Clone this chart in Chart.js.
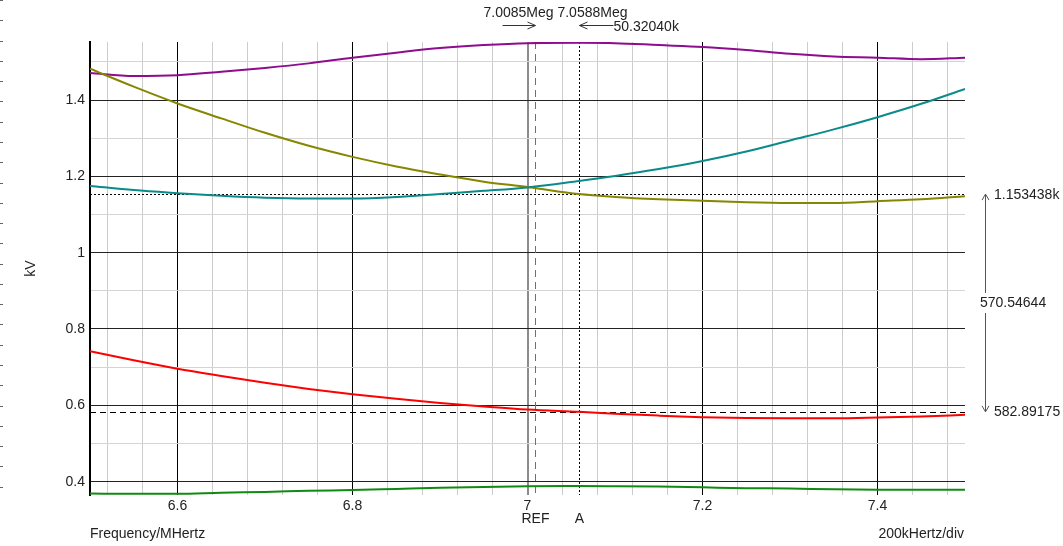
<!DOCTYPE html>
<html>
<head>
<meta charset="utf-8">
<title>Frequency sweep</title>
<script src="https://cdn.jsdelivr.net/npm/chart.js@4.4.1/dist/chart.umd.min.js"></script>
<style>
  html, body { margin: 0; padding: 0; background: #fff; }
  #wrap { position: relative; width: 1063px; height: 546px; }
</style>
</head>
<body>
<div id="wrap"><canvas id="sweepChart"></canvas></div>
<script>
// Sweep points (MHz)
const freqs = [6.5, 6.55, 6.6, 6.65, 6.7, 6.75, 6.8, 6.85, 6.9, 6.95, 7.0, 7.0588, 7.1, 7.15, 7.2, 7.25, 7.3, 7.35, 7.4, 7.45, 7.5];

// Trace values (kV)
const tracePurple = [1.471, 1.463, 1.465, 1.474, 1.484, 1.496, 1.511, 1.524, 1.536, 1.544, 1.549, 1.550, 1.549, 1.544, 1.539, 1.531, 1.521, 1.514, 1.511, 1.507, 1.511];
const traceOlive  = [1.482, 1.435, 1.391, 1.352, 1.314, 1.280, 1.251, 1.226, 1.205, 1.186, 1.172, 1.153438, 1.146, 1.140, 1.136, 1.132, 1.130, 1.130, 1.135, 1.140, 1.148];
const traceTeal   = [1.175, 1.164, 1.156, 1.149, 1.144, 1.142, 1.142, 1.146, 1.154, 1.162, 1.171, 1.188, 1.201, 1.219, 1.240, 1.265, 1.294, 1.323, 1.355, 1.390, 1.429];
const traceRed    = [0.742, 0.718, 0.696, 0.677, 0.659, 0.643, 0.629, 0.617, 0.606, 0.597, 0.589, 0.58289175, 0.578, 0.573, 0.569, 0.567, 0.566, 0.566, 0.568, 0.571, 0.575];
const traceGreen  = [0.369, 0.368, 0.368, 0.371, 0.373, 0.376, 0.378, 0.381, 0.384, 0.386, 0.388, 0.3885, 0.388, 0.387, 0.385, 0.383, 0.382, 0.380, 0.379, 0.379, 0.379];

// Axis ticks
const xTicks = [6.6, 6.8, 7, 7.2, 7.4];
const xTickLabels = ['6.6', '6.8', '7', '7.2', '7.4'];
const xMinor = [6.52, 6.56, 6.64, 6.68, 6.72, 6.76, 6.84, 6.88, 6.92, 6.96, 7.04, 7.08, 7.12, 7.16, 7.24, 7.28, 7.32, 7.36, 7.44, 7.48];
const yTicks = [0.4, 0.6, 0.8, 1, 1.2, 1.4];
const yTickLabels = ['0.4', '0.6', '0.8', '1', '1.2', '1.4'];
const yMinor = [0.5, 0.7, 0.9, 1.1, 1.3, 1.5];

// Cursors
const refFreq = 7.0085;
const aFreq = 7.0588;
const levelHigh = 1.153438;
const levelLow = 0.58289175;
const refText = '7.0085Meg';
const aText = '7.0588Meg';
const deltaFreqText = '50.32040k';
const highText = '1.153438k';
const deltaLevelText = '570.54644';
const lowText = '582.89175';

const FONT = '"Liberation Sans", Arial, sans-serif';
Chart.defaults.font.family = FONT;
Chart.defaults.font.size = 14;

const near = (v, list) => list.findIndex(t => Math.abs(t - v) < 1e-6);

function toPoints(values) {
    return freqs.map((f, i) => ({ x: f, y: values[i] }));
}

function trace(values, color) {
    return {
        data: toPoints(values),
        borderColor: color,
        borderWidth: 2,
        pointRadius: 0,
        fill: false,
        cubicInterpolationMode: 'monotone'
    };
}

function openHead(ctx, tx, ty, ux, uy, len, half) {
    const bx = tx - ux * len, by = ty - uy * len;
    ctx.beginPath();
    ctx.moveTo(bx - uy * half, by + ux * half);
    ctx.lineTo(tx, ty);
    ctx.lineTo(bx + uy * half, by - ux * half);
    ctx.stroke();
}

const cursorPlugin = {
    id: 'cursors',
    beforeDatasetsDraw(chart) {
        const { ctx, chartArea: area, scales: { x, y } } = chart;
        const refX = Math.round(x.getPixelForValue(refFreq)) + 0.5;
        const aX = Math.round(x.getPixelForValue(aFreq)) + 0.5;
        const hiY = Math.round(y.getPixelForValue(levelHigh)) + 0.5;
        const loY = Math.round(y.getPixelForValue(levelLow)) + 0.5;
        ctx.save();
        ctx.lineWidth = 1;

        // REF cursor
        ctx.strokeStyle = '#707070';
        ctx.setLineDash([7, 5]);
        ctx.beginPath();
        ctx.moveTo(refX, area.top);
        ctx.lineTo(refX, area.bottom);
        ctx.stroke();

        // A cursor
        ctx.strokeStyle = '#000';
        ctx.setLineDash([2, 2]);
        ctx.beginPath();
        ctx.moveTo(aX, area.top);
        ctx.lineTo(aX, area.bottom);
        ctx.stroke();

        // level markers
        ctx.beginPath();
        ctx.moveTo(area.left, hiY);
        ctx.lineTo(area.right, hiY);
        ctx.stroke();
        ctx.setLineDash([6, 4]);
        ctx.beginPath();
        ctx.moveTo(area.left, loY);
        ctx.lineTo(area.right, loY);
        ctx.stroke();
        ctx.restore();
    },
    afterDraw(chart) {
        const { ctx, chartArea: area, scales: { x, y } } = chart;
        const refX = Math.round(x.getPixelForValue(refFreq)) + 0.5;
        const aX = Math.round(x.getPixelForValue(aFreq)) + 0.5;
        const hiY = y.getPixelForValue(levelHigh);
        const loY = y.getPixelForValue(levelLow);
        ctx.save();
        ctx.font = '14px ' + FONT;
        ctx.fillStyle = '#222';
        ctx.textBaseline = 'middle';

        // frequency readouts
        ctx.textAlign = 'center';
        ctx.fillText(refText + ' ' + aText, (refX + aX) / 2 - 2, 13);
        ctx.strokeStyle = '#333';
        ctx.lineWidth = 1;
        ctx.beginPath();
        ctx.moveTo(refX - 33, 25.5);
        ctx.lineTo(refX, 25.5);
        ctx.moveTo(aX, 25.5);
        ctx.lineTo(aX + 34, 25.5);
        ctx.stroke();
        openHead(ctx, refX, 25.5, 1, 0, 8, 3.5);
        openHead(ctx, aX, 25.5, -1, 0, 8, 3.5);
        ctx.textAlign = 'left';
        ctx.fillText(deltaFreqText, aX + 34, 27);

        // cursor names under the axis
        ctx.textAlign = 'center';
        ctx.fillText('REF', refX, 519);
        ctx.fillText('A', aX, 519);

        // level readouts on the right
        const vx = 985.5;
        ctx.strokeStyle = '#555';
        ctx.beginPath();
        ctx.moveTo(vx, hiY);
        ctx.lineTo(vx, loY);
        ctx.stroke();
        openHead(ctx, vx, hiY, 0, -1, 6, 3.5);
        openHead(ctx, vx, loY, 0, 1, 6, 3.5);
        ctx.textAlign = 'left';
        ctx.fillText(highText, 994, hiY + 1);
        ctx.fillText(lowText, 994, loY);
        const midY = (hiY + loY) / 2;
        const w = ctx.measureText(deltaLevelText).width;
        ctx.fillStyle = '#fff';
        ctx.fillRect(979, midY - 10, w + 2, 20);
        ctx.fillStyle = '#222';
        ctx.fillText(deltaLevelText, 980, midY);

        // axis captions
        ctx.fillText('Frequency/MHertz', area.left, 534);
        ctx.textAlign = 'right';
        ctx.fillText('200kHertz/div', area.right - 1, 534);
        ctx.save();
        ctx.translate(31, (area.top + area.bottom) / 2);
        ctx.rotate(-Math.PI / 2);
        ctx.textAlign = 'center';
        ctx.fillText('kV', 0, 0);
        ctx.restore();

        // edge ruler marks
        ctx.fillStyle = '#666';
        for (let k = 0; k < 25; k++) {
            ctx.fillRect(0, Math.round(k * 20.28), 3, 1);
        }
        ctx.restore();
    }
};

new Chart(document.getElementById('sweepChart'), {
    type: 'line',
    data: {
        datasets: [
            trace(traceGreen, '#118a11'),
            trace(traceRed, '#ff0000'),
            trace(traceTeal, '#0b8a8a'),
            trace(traceOlive, '#868600'),
            trace(tracePurple, '#8e0c8e')
        ]
    },
    options: {
        responsive: true,
        maintainAspectRatio: false,
        animation: false,
        layout: { padding: { top: 42, right: 98, left: 0, bottom: 0 } },
        plugins: {
            legend: { display: false },
            tooltip: { enabled: false }
        },
        scales: {
            x: {
                type: 'linear',
                min: 6.5,
                max: 7.5,
                afterBuildTicks: axis => {
                    axis.ticks = xMinor.concat(xTicks).sort((a, b) => a - b).map(v => ({ value: v }));
                },
                afterFit: axis => { axis.height = 51; },
                ticks: {
                    autoSkip: false,
                    maxRotation: 0,
                    padding: 3,
                    color: '#222',
                    callback: v => {
                        const i = near(v, xTicks);
                        return i >= 0 ? xTickLabels[i] : '';
                    }
                },
                grid: {
                    drawTicks: false,
                    color: ctx => {
                        const v = ctx.tick ? ctx.tick.value : 0;
                        if (Math.abs(v - 7) < 1e-6) return '#8c8c8c';
                        return near(v, xTicks) >= 0 ? '#000' : '#cccccc';
                    },
                    lineWidth: ctx => (ctx.tick && Math.abs(ctx.tick.value - 7) < 1e-6 ? 2 : 1)
                },
                border: { display: false }
            },
            y: {
                type: 'linear',
                min: 0.365,
                max: 1.552,
                afterBuildTicks: axis => {
                    axis.ticks = yMinor.concat(yTicks).sort((a, b) => a - b).map(v => ({ value: v }));
                },
                afterFit: axis => { axis.width = 90; },
                ticks: {
                    autoSkip: false,
                    padding: 5,
                    color: '#222',
                    callback: v => {
                        const i = near(v, yTicks);
                        return i >= 0 ? yTickLabels[i] : '';
                    }
                },
                grid: {
                    drawTicks: false,
                    color: ctx => (ctx.tick && near(ctx.tick.value, yTicks) >= 0 ? '#222' : '#d4d4d4')
                },
                border: { display: true, color: '#000', width: 2 }
            }
        }
    },
    plugins: [cursorPlugin]
});
</script>
</body>
</html>
